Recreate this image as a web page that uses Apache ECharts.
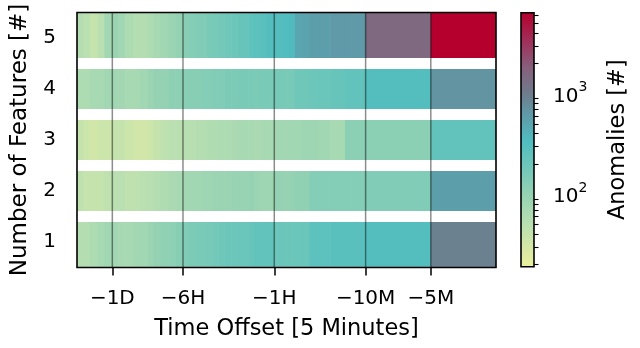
<!DOCTYPE html>
<html><head><meta charset="utf-8">
<script src="https://cdn.jsdelivr.net/npm/echarts@6/dist/echarts.min.js"></script>
<style>html,body{margin:0;padding:0;background:#fff}#c{width:640px;height:348px}</style>
</head><body><div id="c"></div>
<script>
// Time offset bins in 5-minute steps; cell i spans binEdges[i] .. binEdges[i+1]
const binEdges = [-576,-512,-448,-384,-336,-288,-256,-224,-192,-168,-144,-128,-112,-96,-84,-72,
  -64,-56,-50,-45,-40,-36,-32,-28,-24,-20,-18,-16,-14,-12,-11,-10,-9,-8,-7,-6,-5,-4,-3,-2,-1,0];
const featureCounts = [1, 2, 3, 4, 5];
// anomalies per bin for each number of features
const anomalies1 = [56,56,63,71,79, 76,71,71,76,79,89,100,105,112,126,
  141,151,158,158,166,178,191,200,200,209,224,240,240,240, 200,209,200,200,209,209,263,263,282,282,316,930];
const anomalies2 = [45,40,40,40,45, 50,50,45,45,50,52,56,60,66,71,
  76,79,79,83,83,89,89,89,93,93,100,89,83,83, 100,100,95,100,105,105,132,132,132,132,141,575];
const anomalies3 = [40,35,32,35,35, 40,40,35,32,32,35,40,45,50,50,
  52,52,56,56,60,60,63,63,66,71,71,66,71,71, 76,79,76,79,79,83,83,79,71,117,117,240];
const anomalies4 = [63,63,71,71,79, 79,76,71,71,79,89,100,100,112,112,
  120,126,126,132,132,141,141,151,151,158,158,151,158,158, 166,166,158,166,191,191,200,209,224,240,316,680];
const anomalies5 = [56,50,40,50,79, 89,79,63,56,56,63,71,79,89,100,
  126,132,141,141,158,166,178,191,200,224,251,263,282,316, 316,316,331,355,500,525,575,575,631,631,1500,6400];
const tickOffsets = [-288, -72, -12, -2, -1];
const tickLabels = ['\u22121D', '\u22126H', '\u22121H', '\u221210M', '\u22125M'];
const cbarMin = 19, cbarMax = 6400;
const cbarMajor = [100, 1000];
const cbarMinor = [20,30,40,50,60,70,80,90,200,300,400,500,600,700,800,900,2000,3000,4000,5000,6000];

// colormap (log10 value -> colour)
const cmapStops = [[1.28,'#eaf09c'],[1.46,'#d6e8a6'],[1.73,'#b6deb2'],[2.0,'#94d2b3'],[2.3,'#6cc6ba'],
  [2.53,'#50bdc0'],[2.79,'#5f9aa8'],[3.0,'#6e7c8c'],[3.26,'#86607c'],[3.52,'#a0305a'],[3.806,'#b5002e']];

const LT = 2, LS = 1 / (1 - 1 / 10); // symlog: linthresh 2, linscale 1, base 10
function symlog(a) { const m = Math.abs(a); return m <= LT ? a * LS : Math.sign(a) * LT * (LS + Math.log10(m / LT)); }
function hex(h) { return [parseInt(h.slice(1,3),16), parseInt(h.slice(3,5),16), parseInt(h.slice(5,7),16)]; }
const Lmin = Math.log10(cbarMin), Lmax = Math.log10(cbarMax);
function cmap(L) {
  const s = cmapStops;
  if (L <= s[0][0]) return s[0][1];
  if (L >= s[s.length-1][0]) return s[s.length-1][1];
  for (let i = 0; i < s.length - 1; i++) {
    if (L <= s[i+1][0]) {
      const t = (L - s[i][0]) / (s[i+1][0] - s[i][0]);
      const a = hex(s[i][1]), b = hex(s[i+1][1]);
      return 'rgb(' + a.map((c, j) => Math.round(c + (b[j] - c) * t)).join(',') + ')';
    }
  }
}

const rows = [anomalies1, anomalies2, anomalies3, anomalies4, anomalies5];
const heatData = [];
rows.forEach((arr, r) => arr.forEach((v, i) => heatData.push([symlog(binEdges[i]), symlog(binEdges[i+1]), featureCounts[r], v])));
const tickPos = tickOffsets.map(symlog);
const xMin = symlog(binEdges[0]), xMax = symlog(binEdges[binEdges.length-1]);

const G = {left: 77, top: 12.5, width: 419, height: 255};
const C = {left: 521, top: 12.7, width: 13, height: 254};
const FONT = 'DejaVu Sans';

const chart = echarts.init(document.getElementById('c'), null, {renderer: 'canvas'});
chart.setOption({
  animation: false,
  backgroundColor: '#fff',
  grid: [
    {left: G.left, top: G.top, width: G.width, height: G.height},
    {left: C.left, top: C.top, width: C.width, height: C.height}
  ],
  xAxis: [
    {type: 'value', gridIndex: 0, min: xMin, max: xMax, axisLine: {show: false}, splitLine: {show: false},
     axisTick: {show: true, customValues: tickPos, length: 8, lineStyle: {color: '#000', width: 1.5}},
     axisLabel: {customValues: tickPos, margin: 21, fontSize: 20, color: '#000', fontFamily: FONT,
       formatter: v => { const i = tickPos.findIndex(p => Math.abs(p - v) < 1e-6); return i >= 0 ? tickLabels[i] : ''; }}},
    {type: 'value', gridIndex: 1, min: 0, max: 1, show: false}
  ],
  yAxis: [
    {type: 'value', gridIndex: 0, min: 0.5, max: 5.5, axisLine: {show: false}, axisTick: {show: false}, splitLine: {show: false},
     axisLabel: {customValues: featureCounts, margin: 21, fontSize: 20, color: '#000', fontFamily: FONT}},
    {type: 'value', gridIndex: 1, position: 'right', min: Lmin, max: Lmax, axisLine: {show: false}, splitLine: {show: false},
     axisTick: {show: true, customValues: cbarMajor.map(Math.log10), length: 8, lineStyle: {color: '#000', width: 1.4}},
     axisLabel: {customValues: cbarMajor.map(Math.log10), margin: 19, color: '#000', fontFamily: FONT,
       formatter: v => '{b|10}{s|' + Math.round(v) + '}',
       rich: {b: {fontSize: 20, fontFamily: FONT, color: '#000', lineHeight: 26, verticalAlign: 'bottom'},
              s: {fontSize: 14, fontFamily: FONT, color: '#000', lineHeight: 26, verticalAlign: 'top', padding: [0,0,13,0]}}}},
    {type: 'value', gridIndex: 1, position: 'right', min: Lmin, max: Lmax, axisLine: {show: false}, splitLine: {show: false},
     axisTick: {show: true, customValues: cbarMinor.map(Math.log10), length: 4.5, lineStyle: {color: '#000', width: 1.1}},
     axisLabel: {show: false}}
  ],
  series: [
    {type: 'custom', xAxisIndex: 0, yAxisIndex: 0, clip: true, data: heatData, encode: {x: [0, 1], y: 2},
     renderItem: (params, api) => {
       const a = api.coord([api.value(0), api.value(2) - 0.5]);
       const b = api.coord([api.value(1), api.value(2) + 0.5]);
       return {type: 'rect', shape: {x: a[0], y: b[1], width: b[0] - a[0] + 0.6, height: a[1] - b[1]},
               style: {fill: cmap(Math.log10(api.value(3)))}};
     }},
    {type: 'custom', xAxisIndex: 0, yAxisIndex: 0, clip: true, data: [[0, 1.5], [0, 2.5], [0, 3.5], [0, 4.5]], encode: {y: 1},
     renderItem: (params, api) => {
       const y = api.coord([0, api.value(1)])[1];
       const cs = params.coordSys;
       return {type: 'line', shape: {x1: cs.x, y1: y, x2: cs.x + cs.width, y2: y}, style: {stroke: '#fff', lineWidth: 10.8}};
     }},
    {type: 'custom', xAxisIndex: 0, yAxisIndex: 0, clip: true, data: tickPos.map(p => [p, 1]), encode: {x: 0},
     renderItem: (params, api) => {
       const x = api.coord([api.value(0), 1])[0];
       const cs = params.coordSys;
       return {type: 'line', shape: {x1: x, y1: cs.y, x2: x, y2: cs.y + cs.height}, style: {stroke: 'rgba(0,0,0,0.45)', lineWidth: 1.5}};
     }},
    {type: 'custom', xAxisIndex: 1, yAxisIndex: 1, data: [[0, Lmin, Lmax]], encode: {y: [1, 2]},
     renderItem: (params, api) => {
       const a = api.coord([0, api.value(1)]);
       const b = api.coord([1, api.value(2)]);
       const stops = cmapStops.map(s => ({offset: Math.min(1, Math.max(0, (s[0] - Lmin) / (Lmax - Lmin))), color: s[1]}));
       return {type: 'rect', shape: {x: a[0], y: b[1], width: b[0] - a[0], height: a[1] - b[1]},
               style: {fill: new echarts.graphic.LinearGradient(0, 1, 0, 0, stops)}};
     }}
  ],
  graphic: [
    {type: 'rect', z: 100, shape: {x: G.left, y: G.top, width: G.width, height: G.height}, style: {fill: 'none', stroke: '#000', lineWidth: 1.6}},
    {type: 'rect', z: 100, shape: {x: C.left, y: C.top, width: C.width, height: C.height}, style: {fill: 'none', stroke: '#000', lineWidth: 1.6}},
    {type: 'text', z: 100, x: G.left + G.width / 2, y: 329, style: {text: 'Time Offset [5 Minutes]', fontSize: 22.5, fontFamily: FONT, fill: '#000', textAlign: 'center', textVerticalAlign: 'middle', align: 'center', verticalAlign: 'middle'}},
    {type: 'text', z: 100, x: 20, y: G.top + G.height / 2, rotation: Math.PI / 2, style: {text: 'Number of Features [#]', fontSize: 23, fontFamily: FONT, fill: '#000', textAlign: 'center', textVerticalAlign: 'middle', align: 'center', verticalAlign: 'middle'}},
    {type: 'text', z: 100, x: 618, y: C.top + C.height / 2, rotation: Math.PI / 2, style: {text: 'Anomalies [#]', fontSize: 22.5, fontFamily: FONT, fill: '#000', textAlign: 'center', textVerticalAlign: 'middle', align: 'center', verticalAlign: 'middle'}}
  ]
});
</script></body></html>
